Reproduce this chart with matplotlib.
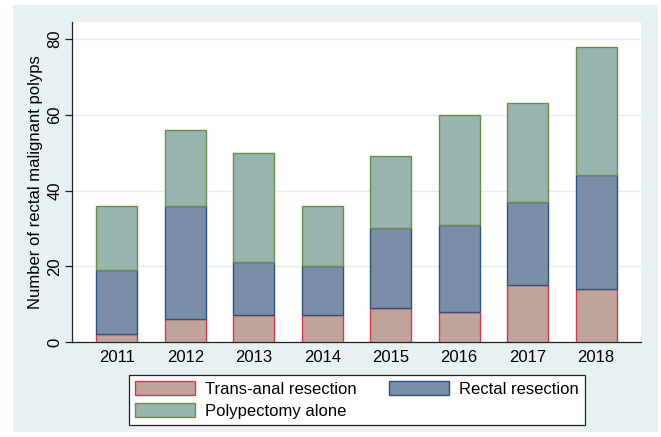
import matplotlib.pyplot as plt
import matplotlib.patches as mpatches
import numpy as np

plt.rcParams['font.family'] = ['Liberation Sans', 'DejaVu Sans']

years = ['2011', '2012', '2013', '2014', '2015', '2016', '2017', '2018']
trans_anal = [2, 6, 7, 7, 9, 8, 15, 14]
rectal = [17, 30, 14, 13, 21, 23, 22, 30]
polypectomy = [17, 20, 29, 16, 19, 29, 26, 34]

series_labels = ['Trans-anal resection', 'Rectal resection', 'Polypectomy alone']
fills = ['#c0a39b', '#7b8ea8', '#97b4ae']
edges = ['#d2394f', '#2c5282', '#6b8c45']

bg = '#e8f0f3'

fig = plt.figure(figsize=(6.61, 4.37), dpi=100)
fig.patch.set_facecolor('white')
fig.patches.append(mpatches.Rectangle((13 / 661, 5 / 437), 645 / 661, 427 / 437,
                                      transform=fig.transFigure, facecolor=bg,
                                      edgecolor='none', zorder=-10))

ax = fig.add_axes([72 / 661, 95 / 437, 569 / 661, 320 / 437])
ax.set_facecolor('white')

x = np.arange(len(years))
bottom = np.zeros(len(years))
bars = []
for vals, fc, ec, lab in zip([trans_anal, rectal, polypectomy], fills, edges, series_labels):
    b = ax.bar(x, vals, width=0.6, bottom=bottom, color=fc, edgecolor=ec,
               linewidth=1.0, label=lab, zorder=3)
    bars.append(b)
    bottom = bottom + np.array(vals)

ax.set_xlim(-0.656, 7.656)
ax.set_ylim(0, 84.5)
ax.set_yticks([0, 20, 40, 60, 80])
ax.set_xticks(x)
ax.set_xticklabels(years)
ax.grid(axis='y', color='#e3ecf0', linewidth=1.0, zorder=0)
ax.set_axisbelow(True)

for s in ['top', 'right']:
    ax.spines[s].set_visible(False)
for s in ['left', 'bottom']:
    ax.spines[s].set_color('#222222')
    ax.spines[s].set_linewidth(0.9)

ax.tick_params(axis='x', length=0, labelsize=12, pad=6)
ax.tick_params(axis='y', length=5, width=0.9, color='#222222', labelsize=12,
               labelrotation=90, pad=2)
for t in ax.get_yticklabels():
    t.set_verticalalignment('center')

ax.set_ylabel('Number of rectal malignant polyps', fontsize=12, labelpad=3)

handles = [bars[0], bars[2], bars[1]]
labels = [series_labels[0], series_labels[2], series_labels[1]]
leg = fig.legend(handles, labels, ncol=2, loc='center',
                 bbox_to_anchor=(357 / 661, 37 / 437), fontsize=12,
                 frameon=True, fancybox=False, edgecolor='#222222', framealpha=1,
                 handlelength=3.6, handleheight=0.9, columnspacing=1.9,
                 handletextpad=0.6, borderpad=0.4, labelspacing=0.35)
leg.get_frame().set_linewidth(0.9)

fig.savefig('out.png', dpi=100)
